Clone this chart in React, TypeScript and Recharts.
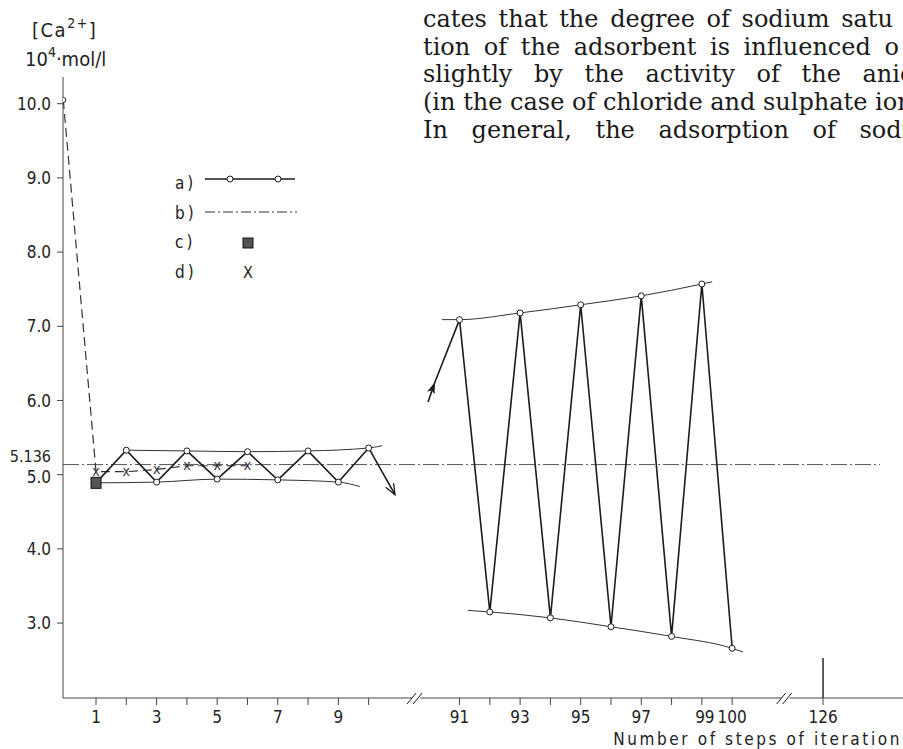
import React from "react";
import { ComposedChart, Line, Scatter, XAxis, YAxis, ReferenceLine, ReferenceDot, Legend } from "recharts";

// the step axis is broken: steps 1-10, then 91-100, then 126
const pos = (step: number) => (step <= 10 ? step : step <= 100 ? step - 78 : step - 101);
const stepAt = (p: number) => (p <= 10 ? p : p <= 22 ? p + 78 : p + 101);

// a) iteration path, [Ca2+] in 10^-4 mol/l
const firstSteps = [1, 2, 3, 4, 5, 6, 7, 8, 9, 10];
const firstConc = [4.89, 5.33, 4.9, 5.32, 4.94, 5.31, 4.93, 5.32, 4.9, 5.36];
const lateSteps = [91, 92, 93, 94, 95, 96, 97, 98, 99, 100];
const lateConc = [7.09, 3.15, 7.18, 3.07, 7.29, 2.95, 7.41, 2.82, 7.57, 2.66];

// thin envelope curves (axis positions, not steps)
const upLeftPos = [2, 4, 6, 8, 10, 10.45];
const upLeftConc = [5.33, 5.32, 5.31, 5.32, 5.36, 5.39];
const lowLeftPos = [1, 3, 5, 7, 9, 9.71];
const lowLeftConc = [4.89, 4.9, 4.94, 4.93, 4.9, 4.84];
const upRightPos = [12.42, 13, 15, 17, 19, 21, 21.34];
const upRightConc = [7.09, 7.09, 7.18, 7.29, 7.41, 7.57, 7.6];
const lowRightPos = [13.28, 14, 16, 18, 20, 22, 22.36];
const lowRightConc = [3.17, 3.15, 3.07, 2.95, 2.82, 2.66, 2.61];

// arrows leaving / entering the gap
const outPos = [10, 10.87];
const outConc = [5.36, 4.73];
const inPos = [11.96, 12.19, 13];
const inConc = [5.98, 6.25, 7.09];

// b) equilibrium value
const equilibrium = 5.136;
const eqPos = [-0.09, 26.88];

// c) starting point
const startStep = [1];
const startConc = [4.89];

// d) second procedure
const dPos = [-0.08, 1, 2, 3, 4, 5, 6];
const dConc = [10.05, 5.04, 5.04, 5.07, 5.12, 5.12, 5.12];

const yTicks = [3, 4, 5, equilibrium, 6, 7, 8, 9, 10];
const xTickSteps = [1, 2, 3, 4, 5, 6, 7, 8, 9, 10, 91, 92, 93, 94, 95, 96, 97, 98, 99, 100, 126];
const labelledSteps = [1, 3, 5, 7, 9, 91, 93, 95, 97, 99, 100, 126];
const breakPos = [11.6, 23.8];
const legendLabels = ["a)", "b)", "c)", "d)"];

// book text above the figure (runs off the page edge)
const paragraph = [
  "cates that the degree of sodium satu",
  "tion of the adsorbent is influenced o",
  "slightly by the activity of the anio",
  "(in the case of chloride and sulphate ion",
  "In general, the adsorption of sodiu",
];
const paraSpacing = [4, 6, 14, 0, 16];

const rows = (ps: number[], vs: number[]) => ps.map((p, i) => ({ p, v: vs[i] }));

const INK = "#1c1c1c";
const SANS = "'DejaVu Sans Condensed', 'DejaVu Sans', sans-serif";

function YTick({ x, y, payload }: any) {
  const v = payload.value;
  const eq = v === equilibrium;
  const dy = eq ? -8 : v === 5 ? 2 : 0;
  return (
    <g>
      {!eq && <line x1={x + 2} x2={x + 8} y1={y} y2={y} stroke="#444" />}
      <text x={x - 4} y={y + dy} dy="0.36em" textAnchor="end" fontFamily={SANS} fontSize={eq ? 16 : 17} fill="#222">
        {eq ? "5.136" : v.toFixed(1)}
      </text>
    </g>
  );
}

function XTick({ x, y, payload }: any) {
  const step = stepAt(payload.value);
  if (!labelledSteps.includes(step)) return null;
  return (
    <text x={x + (step === 99 ? 3 : 0)} y={y + 16} textAnchor="middle" fontFamily={SANS} fontSize={17} fill="#222">
      {step}
    </text>
  );
}

function openDot(skipFirst: boolean) {
  return (props: any) => {
    const { cx, cy, index } = props;
    if (skipFirst && index === 0) return <g key={index} />;
    return <circle key={index} cx={cx} cy={cy} r={3} fill="#fff" stroke={INK} strokeWidth={1} />;
  };
}

function crossDot(props: any) {
  const { cx, cy, index } = props;
  if (index === 0) return <circle key={index} cx={cx} cy={cy} r={2.5} fill="#fff" stroke={INK} strokeWidth={1} />;
  return (
    <text key={index} x={cx} y={cy} dy="0.3em" textAnchor="middle" fontFamily={SANS} fontSize={14} fill="#333">
      x
    </text>
  );
}

function BreakMark({ cx, cy }: any) {
  return (
    <g>
      <rect x={cx - 5} y={cy - 2} width={8} height={4} fill="#fff" />
      <line x1={cx - 10} y1={cy + 6} x2={cx - 1} y2={cy - 5} stroke={INK} />
      <line x1={cx - 4} y1={cy + 6} x2={cx + 5} y2={cy - 5} stroke={INK} />
    </g>
  );
}

function LegendBox() {
  const rowY = [18, 48, 77, 107];
  return (
    <svg width={150} height={118}>
      {legendLabels.map((l, i) => (
        <text key={l} x={15} y={rowY[i]} dy="0.36em" fontFamily={SANS} fontSize={17} letterSpacing={3} fill="#222">
          {l}
        </text>
      ))}
      <line x1={45} x2={135} y1={14} y2={14} stroke={INK} strokeWidth={1.4} />
      <circle cx={70} cy={14} r={3} fill="#fff" stroke={INK} />
      <circle cx={118} cy={14} r={3} fill="#fff" stroke={INK} />
      <line x1={45} x2={137} y1={47} y2={47} stroke="#333" strokeDasharray="10 3 2 3" />
      <rect x={83} y={73} width={10} height={10} fill="#555" stroke="#111" />
      <text x={88} y={107} dy="0.36em" textAnchor="middle" fontFamily={SANS} fontSize={16} fill="#222">
        X
      </text>
    </svg>
  );
}

export default function App() {
  return (
    <div style={{ position: "absolute", left: 0, top: 0, width: 903, height: 749, background: "#fff", overflow: "hidden" }}>
      <ComposedChart width={903} height={749} margin={{ top: 77, right: 0, left: 0, bottom: 0 }}>
        <defs>
          <marker id="openHead" viewBox="0 0 12 10" refX="11" refY="5" markerWidth="12" markerHeight="10" markerUnits="userSpaceOnUse" orient="auto">
            <path d="M0,0.5 L11,5 L0,9.5" fill="none" stroke={INK} strokeWidth={1.3} />
          </marker>
          <marker id="solidHead" viewBox="0 0 12 8" refX="12" refY="4" markerWidth="12" markerHeight="8" markerUnits="userSpaceOnUse" orient="auto">
            <path d="M0,0 L12,4 L0,8 L3,4 Z" fill={INK} />
          </marker>
        </defs>
        <XAxis
          type="number"
          dataKey="p"
          domain={[-0.09, 27.64]}
          allowDataOverflow
          ticks={xTickSteps.map(pos)}
          interval={0}
          tick={<XTick />}
          tickSize={7}
          height={51}
          stroke="#444"
        />
        <YAxis
          type="number"
          dataKey="v"
          domain={[1.99, 10.36]}
          allowDataOverflow
          ticks={yTicks}
          interval={0}
          tick={<YTick />}
          tickLine={false}
          width={63}
          stroke="#444"
        />
        <Legend
          layout="vertical"
          align="center"
          verticalAlign="middle"
          content={() => <LegendBox />}
          wrapperStyle={{ left: 160, top: 165, width: 150, height: 118 }}
        />
        <Line data={rows(eqPos, [equilibrium, equilibrium])} dataKey="v" stroke="#555" strokeWidth={1} strokeDasharray="16 3 2 3" dot={false} isAnimationActive={false} />
        <Line data={rows(dPos, dConc)} dataKey="v" stroke="#333" strokeWidth={1.2} strokeDasharray="9 5" dot={crossDot} isAnimationActive={false} />
        <Line data={rows(upLeftPos, upLeftConc)} dataKey="v" type="monotone" stroke="#333" strokeWidth={1} dot={false} isAnimationActive={false} />
        <Line data={rows(lowLeftPos, lowLeftConc)} dataKey="v" type="monotone" stroke="#333" strokeWidth={1} dot={false} isAnimationActive={false} />
        <Line data={rows(upRightPos, upRightConc)} dataKey="v" type="monotone" stroke="#333" strokeWidth={1} dot={false} isAnimationActive={false} />
        <Line data={rows(lowRightPos, lowRightConc)} dataKey="v" type="monotone" stroke="#333" strokeWidth={1} dot={false} isAnimationActive={false} />
        <Line data={rows(outPos, outConc)} dataKey="v" stroke={INK} strokeWidth={1.6} dot={false} markerEnd="url(#openHead)" isAnimationActive={false} />
        <Line data={rows(inPos, inConc)} dataKey="v" stroke={INK} strokeWidth={1.6} dot={false} markerMid="url(#solidHead)" isAnimationActive={false} />
        <Line data={rows(firstSteps.map(pos), firstConc)} dataKey="v" type="linear" stroke={INK} strokeWidth={1.6} dot={openDot(true)} isAnimationActive={false} />
        <Line data={rows(lateSteps.map(pos), lateConc)} dataKey="v" type="linear" stroke={INK} strokeWidth={1.6} dot={openDot(false)} isAnimationActive={false} />
        <Scatter
          data={rows(startStep.map(pos), startConc)}
          dataKey="v"
          shape={(s: any) => <rect x={s.cx - 5} y={s.cy - 5.5} width={10} height={11} fill="#555" stroke="#111" />}
          isAnimationActive={false}
        />
        {breakPos.map((b) => (
          <ReferenceDot key={b} x={b} y={1.99} r={0} ifOverflow="visible" shape={<BreakMark />} />
        ))}
        <ReferenceLine segment={[{ x: pos(126), y: 1.99 }, { x: pos(126), y: 2.53 }]} stroke={INK} strokeWidth={1.4} ifOverflow="visible" />
      </ComposedChart>
      <svg width={903} height={749} style={{ position: "absolute", left: 0, top: 0, pointerEvents: "none" }}>
        <text x={32} y={37} fontFamily={SANS} fontSize={20} letterSpacing={1.5} fill="#222">
          [Ca<tspan dy={-9} fontSize={14}>2+</tspan>
          <tspan dy={9}>]</tspan>
        </text>
        <text x={25} y={66} fontFamily={SANS} fontSize={20} fill="#222">
          10<tspan dy={-9} fontSize={14}>4</tspan>
          <tspan dy={9}>·mol/l</tspan>
        </text>
        <text x={902} y={745} textAnchor="end" fontFamily={SANS} fontSize={17} letterSpacing={2.6} fill="#222">
          Number of steps of iteration
        </text>
        {paragraph.map((line, i) => (
          <text key={i} x={423} y={27 + i * 27.7} fontFamily="'DejaVu Serif', serif" fontSize={24} fill="#1a1a1a" style={{ wordSpacing: paraSpacing[i] }}>
            {line}
          </text>
        ))}
      </svg>
    </div>
  );
}
